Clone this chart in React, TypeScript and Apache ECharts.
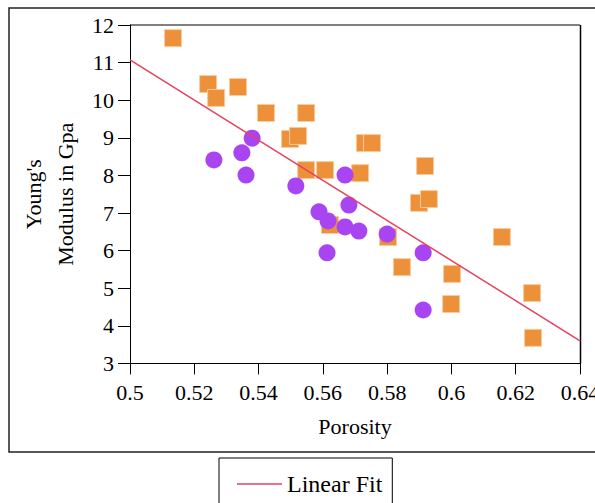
import React, { useEffect, useRef } from "react";
import * as echarts from "echarts";

const squareX = [0.5134, 0.5243, 0.5268, 0.5336, 0.5423, 0.5548, 0.5498, 0.5523, 0.5548, 0.5607, 0.5731, 0.5753, 0.5716, 0.5918, 0.5899, 0.593, 0.5622, 0.5803, 0.5846, 0.6002, 0.5999, 0.6157, 0.6251, 0.6254];
const squareY = [11.65, 10.43, 10.06, 10.35, 9.66, 9.66, 8.97, 9.05, 8.14, 8.14, 8.86, 8.86, 8.06, 8.25, 7.27, 7.37, 6.68, 6.36, 5.56, 5.38, 4.58, 6.36, 4.87, 3.68];
const circleX = [0.5261, 0.5348, 0.5361, 0.538, 0.5516, 0.5669, 0.5588, 0.5616, 0.5681, 0.5669, 0.5712, 0.58, 0.5613, 0.5912, 0.5912];
const circleY = [8.41, 8.6, 8.01, 8.99, 7.72, 8.01, 7.03, 6.79, 7.21, 6.63, 6.52, 6.44, 5.94, 5.94, 4.42];
const fitX = [0.5, 0.64];
const fitY = [11.07, 3.6];

const FONT = "Liberation Serif";

export default function App() {
  const ref = useRef<HTMLDivElement>(null);
  useEffect(() => {
    if (!ref.current) return;
    const chart = echarts.init(ref.current, null, { renderer: "svg" });
    chart.setOption({
      animation: false,
      backgroundColor: "#fff",
      grid: { left: 130, top: 25, width: 450, height: 338.4, outerBoundsMode: "none", containLabel: false },
      xAxis: {
        type: "value",
        min: 0.5,
        max: 0.64,
        interval: 0.02,
        name: "Porosity",
        nameLocation: "middle",
        nameGap: 52,
        nameTextStyle: { fontFamily: FONT, fontSize: 22, color: "#000" },
        axisLine: { show: true, lineStyle: { color: "#000", width: 1 } },
        axisTick: { show: true, length: 11, lineStyle: { color: "#000" } },
        axisLabel: { fontFamily: FONT, fontSize: 22, color: "#000", margin: 18, showMaxLabel: true },
        splitLine: { show: false },
      },
      yAxis: {
        type: "value",
        min: 3,
        max: 12,
        interval: 1,
        name: "Young's\nModulus in Gpa",
        nameLocation: "middle",
        nameRotate: 90,
        nameGap: 46,
        nameTextStyle: { fontFamily: FONT, fontSize: 22, color: "#000", lineHeight: 32 },
        axisLine: { show: true, lineStyle: { color: "#000", width: 1 } },
        axisTick: { show: true, length: 12, lineStyle: { color: "#000" } },
        axisLabel: { fontFamily: FONT, fontSize: 22, color: "#000", margin: 16 },
        splitLine: { show: false },
      },
      legend: {
        data: [{ name: "Linear Fit", icon: "rect" }],
        left: 219,
        top: 458,
        orient: "horizontal",
        padding: [14, 10, 30, 18],
        borderColor: "#000",
        borderWidth: 1,
        itemWidth: 45,
        itemHeight: 1.5,
        textStyle: { fontFamily: FONT, fontSize: 24, color: "#000" },
      },
      graphic: [
        {
          type: "rect",
          shape: { x: 9, y: 8, width: 600, height: 444 },
          style: { fill: "none", stroke: "#222", lineWidth: 1.5 },
          silent: true,
        },
        {
          type: "line",
          shape: { x1: 130, y1: 25, x2: 580, y2: 25 },
          style: { stroke: "#000", lineWidth: 1 },
        },
        {
          type: "line",
          shape: { x1: 580.5, y1: 25, x2: 580.5, y2: 363.4 },
          style: { stroke: "#000", lineWidth: 1.5 },
        },
      ],
      series: [
        {
          name: "Squares",
          type: "scatter",
          symbol: "rect",
          symbolSize: 17,
          itemStyle: { color: "#EC913A", borderColor: "#F8CB9C", borderWidth: 1, opacity: 1 },
          data: squareX.map((x, i) => [x, squareY[i]]),
          z: 2,
        },
        {
          name: "Circles",
          type: "scatter",
          symbol: "circle",
          symbolSize: 17,
          itemStyle: { color: "#A944F2", opacity: 1 },
          data: circleX.map((x, i) => [x, circleY[i]]),
          z: 3,
        },
        {
          name: "Linear Fit",
          type: "line",
          symbol: "none",
          lineStyle: { color: "#E8405F", width: 1.5 },
          itemStyle: { color: "#E8405F" },
          data: fitX.map((x, i) => [x, fitY[i]]),
          z: 4,
        },
      ],
    });
    return () => chart.dispose();
  }, []);
  return (
    <div
      ref={ref}
      style={{ position: "absolute", left: 0, top: 0, width: 595, height: 503 }}
    />
  );
}
